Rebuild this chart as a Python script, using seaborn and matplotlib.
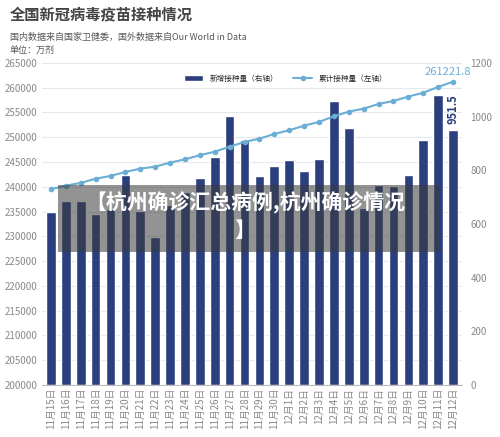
import numpy as np
import pandas as pd
import matplotlib
matplotlib.use("Agg")
import matplotlib.pyplot as plt
import seaborn as sns
from matplotlib.patches import Rectangle

sns.set_style("white")
plt.rcParams['font.family'] = ['Noto Sans CJK SC', 'DejaVu Sans']

# ====== 数据 ======
dates = ["11月15日", "11月16日", "11月17日", "11月18日", "11月19日", "11月20日", "11月21日",
         "11月22日", "11月23日", "11月24日", "11月25日", "11月26日", "11月27日", "11月28日",
         "11月29日", "11月30日", "12月1日", "12月2日", "12月3日", "12月4日", "12月5日",
         "12月6日", "12月7日", "12月8日", "12月9日", "12月10日", "12月11日", "12月12日"]
new_doses = [645, 684, 686, 638, 655, 781, 650, 552, 670, 720, 770, 851, 1002, 914,
             777, 815, 840, 796, 843, 1060, 959, 660, 744, 740, 781, 914, 1080, 951.5]
cum_doses = [239500, 240230, 240780, 241640, 242190, 243000, 243660, 244070, 244870,
             245560, 246370, 247090, 248100, 249050, 249720, 250670, 251410, 252340,
             253090, 254240, 255170, 255770, 256720, 257330, 258200, 259000, 260150, 261221.8]

df = pd.DataFrame({"date": dates, "new": new_doses, "cum": cum_doses})
df["x"] = np.arange(len(df))

bar_c = "#2b3f7e"
line_c = "#6aaed6"
grey = "#888888"

fig = plt.figure(figsize=(5.0, 4.37), dpi=100)
ax = fig.add_axes([0.084, 0.119, 0.84, 0.737])
ax2 = ax.twinx()

sns.barplot(data=df, x="x", y="new", color=bar_c, width=0.65, ax=ax2,
            saturation=1, label="新增接种量（右轴）")
sns.lineplot(data=df, x="x", y="cum", color=line_c, marker="o", markersize=4,
             markeredgewidth=0, linewidth=1.5, ax=ax, label="累计接种量（左轴）")
ax.set_zorder(ax2.get_zorder() + 1)
ax.patch.set_visible(False)

ax.set_ylim(200000, 265000)
ax.set_yticks(np.arange(200000, 265001, 5000))
ax2.set_ylim(0, 1200)
ax2.set_yticks(np.arange(0, 1201, 200))
ax.set_xlim(-0.6, len(df) - 0.4)
ax.set_xticks(df["x"])
ax.set_xticklabels(dates, rotation=90, fontsize=7, color=grey)
ax.tick_params(axis="y", labelsize=7, colors=grey, length=0)
ax2.tick_params(axis="y", labelsize=7, colors=grey, length=0, pad=6)
ax.tick_params(axis="x", length=0, pad=2)
ax.set_xlabel(""); ax.set_ylabel(""); ax2.set_xlabel(""); ax2.set_ylabel("")
ax2.grid(False)
for y in np.arange(200000, 265001, 5000):
    ax2.axhline((y - 200000) / 65000 * 1200, color="#e6e8ef", lw=0.8, zorder=0)
for a in (ax, ax2):
    for s in a.spines.values():
        s.set_visible(False)
ax.spines["bottom"].set_visible(True)
ax.spines["bottom"].set_color("#bbbbbb")

ax.annotate(f"{cum_doses[-1]:.1f}", (df["x"].iloc[-1], cum_doses[-1]),
            xytext=(-4, 5), textcoords="offset points", ha="center",
            color=line_c, fontsize=8)
ax2.annotate(f"{new_doses[-1]}", (df["x"].iloc[-1], new_doses[-1]),
             xytext=(0, 4), textcoords="offset points", ha="center", va="bottom",
             rotation=90, color=bar_c, fontsize=8, fontweight="bold")

h1, l1 = ax2.get_legend_handles_labels()
h2, l2 = ax.get_legend_handles_labels()
ax.legend(h1 + h2, l1 + l2, loc="upper center", bbox_to_anchor=(0.58, 0.985),
          ncol=2, frameon=False, fontsize=5.5, handlelength=2.5)
if ax2.get_legend():
    ax2.get_legend().remove()

fig.text(0.02, 0.985, "全国新冠病毒疫苗接种情况", fontsize=11, fontweight="bold",
         color="#444444", va="top")
fig.text(0.02, 0.925, "国内数据来自国家卫健委，国外数据来自Our World in Data",
         fontsize=6.5, color="#555555", va="top")
fig.text(0.02, 0.895, "单位：万剂", fontsize=6.5, color="#555555", va="top")

# 叠加横幅
fig.patches.append(Rectangle((0.116, 0.424), 0.764, 0.153, transform=fig.transFigure,
                             facecolor="#3a3a3a", alpha=0.55, edgecolor="none", zorder=10))
fig.text(0.49, 0.535, "【杭州确诊汇总病例,杭州确诊情况", fontsize=15, fontweight="bold",
         color="white", ha="center", va="center", zorder=11)
fig.text(0.49, 0.472, "】", fontsize=15, fontweight="bold",
         color="white", ha="center", va="center", zorder=11)

fig.savefig("out.png", dpi=100)
